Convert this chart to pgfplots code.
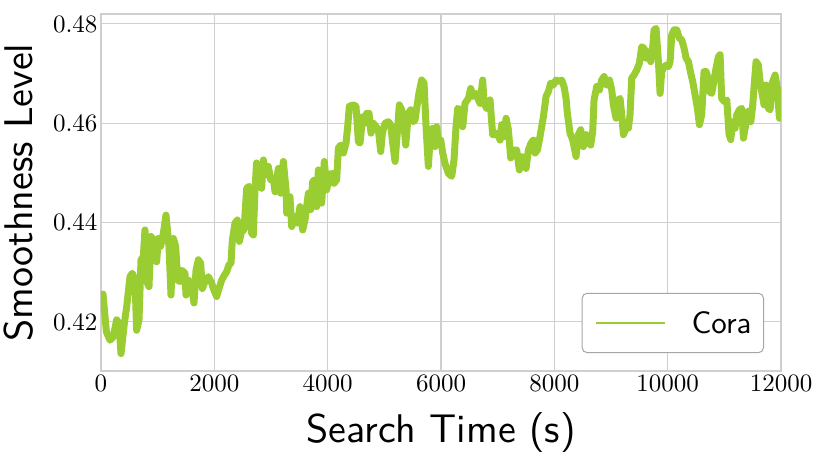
\documentclass[border=0pt]{standalone}
\usepackage{fontspec}
\newfontfamily\rmten{lmroman10-regular.otf}
\newfontfamily\sften{lmsans10-regular.otf}
\usepackage{pgfplots}
\pgfplotsset{compat=1.18}
\definecolor{yg}{HTML}{9ACD32}
\definecolor{gridgray}{HTML}{CFCFCF}
\begin{document}
\begin{tikzpicture}
\useasboundingbox (-101pt,-87pt) rectangle (713pt,371pt);
\begin{axis}[
  scale only axis, width=680pt, height=357pt,
  xmin=0, xmax=12000, ymin=0.4101, ymax=0.482,
  xtick={0,2000,4000,6000,8000,10000,12000},
  ytick={0.42,0.44,0.46,0.48},
  scaled x ticks=false, scaled y ticks=false,
  /pgf/number format/assume math mode=true,
  xticklabel style={/pgf/number format/1000 sep={}},
  yticklabel style={/pgf/number format/fixed, /pgf/number format/precision=2, /pgf/number format/fixed zerofill},
  tick label style={font=\fontsize{25}{30}\rmten},
  major tick length=0pt,
  grid=major,
  major grid style={draw=gridgray, line width=1.1pt},
  axis line style={draw=gridgray, line width=1.1pt},
  xlabel={Search Time (s)}, ylabel={Smoothness Level},
  label style={font=\fontsize{40}{48}\sften},
  xlabel style={at={(axis description cs:0.5,-0.2003)}, anchor=base},
  ylabel style={at={(axis description cs:-0.1,0.5)}, anchor=base},
  legend style={at={(0.975,0.05)}, anchor=south east, draw=gray!70, rounded corners=5pt, line width=1pt,
    font=\fontsize{31}{36}\sften, inner xsep=12pt, inner ysep=18pt, nodes={inner sep=0pt}},
  legend image code/.code={\path[draw=none] (0pt,0pt) -- (96pt,0pt); \draw[#1, line width=2.8pt, line cap=butt] (0pt,0pt) -- (69pt,0pt);},
]
\addplot[yg, line width=7pt, line join=round, line cap=round] coordinates {
(35,0.4256)(95,0.4180)(159,0.4163)(218,0.4170)(276,0.4204)(318,0.4197)(353,0.4136)(412,0.4197)
(453,0.4230)(512,0.4291)(553,0.4298)(600,0.4284)(629,0.4183)(671,0.4204)(706,0.4325)(747,0.4331)
(776,0.4385)(818,0.4278)(847,0.4271)(882,0.4372)(924,0.4365)(953,0.4325)(982,0.4321)(1012,0.4368)
(1053,0.4352)(1100,0.4378)(1147,0.4415)(1200,0.4352)(1235,0.4254)(1277,0.4368)(1318,0.4352)(1353,0.4284)
(1394,0.4281)(1424,0.4304)(1482,0.4298)(1500,0.4254)(1541,0.4284)(1588,0.4278)(1641,0.4238)(1677,0.4304)
(1718,0.4325)(1759,0.4318)(1788,0.4267)(1835,0.4281)(1894,0.4291)(1953,0.4278)(1983,0.4267)(2041,0.4251)
(2082,0.4267)(2130,0.4284)(2177,0.4294)(2218,0.4301)(2259,0.4315)(2294,0.4318)(2318,0.4365)(2365,0.4399)
(2406,0.4405)(2441,0.4362)(2482,0.4382)(2524,0.4385)(2571,0.4469)(2612,0.4473)(2659,0.4378)(2688,0.4375)
(2718,0.4466)(2745,0.4520)(2775,0.4505)(2800,0.4515)(2835,0.4469)(2865,0.4526)(2912,0.4496)(2953,0.4513)
(2994,0.4486)(3041,0.4489)(3071,0.4462)(3130,0.4509)(3171,0.4459)(3218,0.4523)(3265,0.4466)(3277,0.4419)
(3335,0.4452)(3365,0.4392)(3424,0.4412)(3465,0.4399)(3512,0.4432)(3559,0.4385)(3600,0.4405)(3659,0.4459)
(3700,0.4426)(3736,0.4483)(3777,0.4486)(3806,0.4432)(3836,0.4506)(3894,0.4439)(3941,0.4523)(3983,0.4466)
(4030,0.4496)(4071,0.4499)(4112,0.4479)(4159,0.4486)(4189,0.4550)(4230,0.4556)(4277,0.4540)(4324,0.4560)
(4353,0.4593)(4383,0.4634)(4453,0.4637)(4500,0.4634)(4542,0.4563)(4571,0.4560)(4618,0.4613)(4659,0.4600)
(4689,0.4620)(4730,0.4620)(4765,0.4580)(4806,0.4600)(4853,0.4593)(4895,0.4587)(4936,0.4543)(4965,0.4580)
(5012,0.4600)(5071,0.4603)(5112,0.4597)(5148,0.4560)(5189,0.4523)(5230,0.4583)(5265,0.4637)(5306,0.4627)
(5348,0.4593)(5377,0.4556)(5424,0.4620)(5465,0.4627)(5512,0.4603)(5542,0.4607)(5571,0.4630)(5610,0.4660)
(5659,0.4687)(5701,0.4681)(5736,0.4593)(5777,0.4513)(5818,0.4587)(5865,0.4590)(5895,0.4553)(5924,0.4593)
(5954,0.4560)(5995,0.4566)(6030,0.4540)(6071,0.4519)(6130,0.4499)(6189,0.4493)(6230,0.4526)(6265,0.4593)
(6295,0.4630)(6336,0.4627)(6383,0.4593)(6424,0.4640)(6483,0.4650)(6524,0.4670)(6571,0.4654)(6618,0.4660)
(6660,0.4647)(6689,0.4640)(6736,0.4687)(6760,0.4640)(6807,0.4630)(6865,0.4647)(6912,0.4577)(6954,0.4577)
(6995,0.4580)(7042,0.4566)(7071,0.4597)(7113,0.4573)(7148,0.4610)(7189,0.4587)(7230,0.4530)(7277,0.4546)
(7336,0.4546)(7383,0.4506)(7424,0.4533)(7465,0.4530)(7501,0.4509)(7542,0.4546)(7589,0.4560)(7630,0.4566)
(7660,0.4540)(7701,0.4546)(7736,0.4566)(7777,0.4593)(7807,0.4613)(7854,0.4654)(7895,0.4664)(7936,0.4681)
(7983,0.4677)(8030,0.4687)(8089,0.4684)(8130,0.4687)(8171,0.4674)(8207,0.4650)(8230,0.4620)(8277,0.4580)
(8325,0.4566)(8383,0.4533)(8424,0.4577)(8466,0.4587)(8513,0.4553)(8560,0.4577)(8601,0.4563)(8642,0.4556)
(8677,0.4583)(8701,0.4647)(8748,0.4674)(8795,0.4667)(8836,0.4687)(8878,0.4694)(8925,0.4677)(8972,0.4687)
(9013,0.4667)(9042,0.4637)(9089,0.4610)(9131,0.4647)(9160,0.4650)(9189,0.4617)(9219,0.4577)(9266,0.4590)
(9307,0.4590)(9336,0.4617)(9366,0.4691)(9407,0.4697)(9454,0.4707)(9501,0.4721)(9542,0.4754)(9583,0.4751)
(9619,0.4731)(9660,0.4744)(9701,0.4724)(9737,0.4754)(9760,0.4788)(9795,0.4791)(9837,0.4724)(9866,0.4660)
(9895,0.4704)(9925,0.4711)(9972,0.4717)(10013,0.4714)(10043,0.4724)(10072,0.4778)(10113,0.4788)(10160,0.4788)
(10207,0.4771)(10248,0.4768)(10290,0.4751)(10325,0.4731)(10366,0.4724)(10407,0.4701)(10442,0.4684)(10484,0.4657)
(10525,0.4630)(10560,0.4597)(10601,0.4617)(10642,0.4704)(10678,0.4704)(10707,0.4694)(10737,0.4664)(10778,0.4660)
(10819,0.4687)(10854,0.4711)(10896,0.4734)(10925,0.4738)(10954,0.4650)(10996,0.4644)(11043,0.4647)(11084,0.4577)
(11113,0.4567)(11148,0.4603)(11190,0.4590)(11219,0.4617)(11266,0.4627)(11307,0.4630)(11337,0.4570)(11378,0.4597)
(11425,0.4624)(11467,0.4603)(11502,0.4637)(11525,0.4674)(11560,0.4724)(11601,0.4717)(11631,0.4684)(11660,0.4664)
(11701,0.4637)(11737,0.4677)(11778,0.4630)(11807,0.4627)(11854,0.4684)(11896,0.4697)(11937,0.4670)(11972,0.4610)
};
\addlegendentry{Cora}
\end{axis}
\end{tikzpicture}
\end{document}
